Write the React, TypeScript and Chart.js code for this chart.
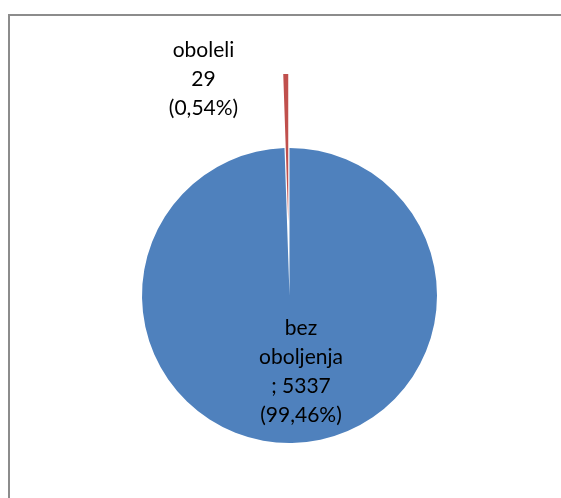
import React, { useEffect, useRef } from "react";
import { Chart, registerables } from "chart.js";

Chart.register(...registerables);

const categories = ["bez oboljenja", "oboleli"];
const counts = [5337, 29];
const sliceColors = ["#4F81BD", "#C0504D"];
const explodePx = [0, 74];

const total = counts.reduce((a, b) => a + b, 0);
const pctText = (v: number) => (v / total * 100).toFixed(2).replace(".", ",") + "%";

const labelLines: string[][] = [
  [...categories[0].split(" "), "; " + counts[0], "(" + pctText(counts[0]) + ")"],
  [categories[1], String(counts[1]), "(" + pctText(counts[1]) + ")"],
];

// label block centre offsets relative to the pie centre (layout only)
const labelOffsets = [
  { dx: 11.5, dy: 76 },
  { dx: -86, dy: -216.5 },
];

const FONT = "21px Lato";
const LINE_H = 29;

const explodePlugin = {
  id: "explodeSlices",
  afterDatasetUpdate(chart: any, args: any) {
    const meta = chart.getDatasetMeta(args.index);
    meta.data.forEach((arc: any, i: number) => {
      const d = explodePx[i] || 0;
      if (!d) return;
      const mid = (arc.startAngle + arc.endAngle) / 2;
      arc.x += Math.cos(mid) * d;
      arc.y += Math.sin(mid) * d;
    });
  },
};

const labelPlugin = {
  id: "sliceLabels",
  afterDatasetsDraw(chart: any) {
    const meta = chart.getDatasetMeta(0);
    const cx0 = meta.data[0].x;
    const cy0 = meta.data[0].y;
    const ctx = chart.ctx;
    ctx.save();
    ctx.font = FONT;
    ctx.fillStyle = "#000";
    ctx.textAlign = "center";
    ctx.textBaseline = "middle";
    meta.data.forEach((_arc: any, i: number) => {
      const lines = labelLines[i];
      const cx = cx0 + labelOffsets[i].dx;
      const cy = cy0 + labelOffsets[i].dy;
      const startY = cy - ((lines.length - 1) * LINE_H) / 2;
      lines.forEach((t, j) => ctx.fillText(t, cx, startY + j * LINE_H));
    });
    ctx.restore();
  },
};

export default function App() {
  const ref = useRef<HTMLCanvasElement>(null);
  useEffect(() => {
    if (!ref.current) return;
    const chart = new Chart(ref.current, {
      type: "pie",
      data: {
        labels: categories,
        datasets: [
          {
            data: counts,
            backgroundColor: sliceColors,
            borderWidth: 0,
            hoverOffset: 0,
            clip: false,
          } as any,
        ],
      },
      options: {
        responsive: false,
        animation: false,
        devicePixelRatio: 1,
        radius: 147.5,
        layout: { autoPadding: false, padding: { left: 18, right: 0, top: 93, bottom: 0 } },
        plugins: { legend: { display: false }, tooltip: { enabled: false } },
        events: [],
      } as any,
      plugins: [explodePlugin, labelPlugin],
    });
    return () => chart.destroy();
  }, []);
  return (
    <div style={{ position: "fixed", left: 0, top: 0, width: 561, height: 498, background: "#fff", overflow: "hidden" }}>
      <div
        style={{
          position: "absolute",
          left: 8,
          top: 14,
          width: 600,
          height: 600,
          borderLeft: "2px solid #8c8c8c",
          borderTop: "2px solid #8c8c8c",
        }}
      />
      <canvas ref={ref} width={561} height={498} style={{ position: "absolute", left: 0, top: 0, width: 561, height: 498 }} />
    </div>
  );
}
